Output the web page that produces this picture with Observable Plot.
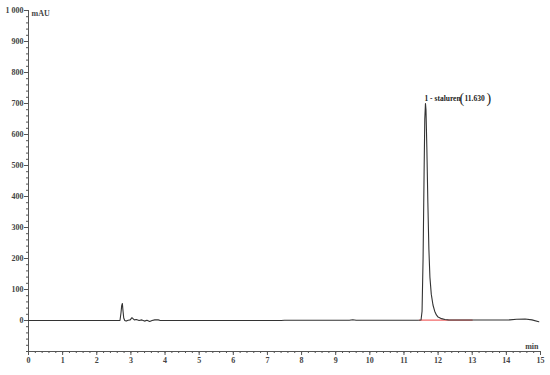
<!DOCTYPE html>
<html>
<head>
<meta charset="utf-8">
<script src="https://cdn.jsdelivr.net/npm/d3@7"></script>
<script src="https://cdn.jsdelivr.net/npm/@observablehq/plot@0.6"></script>
<style>
  html, body { margin: 0; padding: 0; background: #fff; }
  #chart { width: 550px; height: 375px; }
</style>
</head>
<body>
<div id="chart"></div>
<script>
// Chromatogram trace (time in min, absorbance in mAU)
const times = [0, 2.60, 2.68, 2.71, 2.73, 2.75, 2.77, 2.79, 2.82, 2.86, 2.92, 2.98, 3.03, 3.06, 3.10, 3.16, 3.24, 3.32, 3.40, 3.47, 3.55, 3.62, 3.70, 3.80, 3.86, 5.0, 7.40, 7.50, 9.40, 9.50, 9.60, 11.40, 11.50, 11.53, 11.56, 11.59, 11.61, 11.63, 11.645, 11.67, 11.70, 11.73, 11.76, 11.80, 11.85, 11.90, 11.95, 12.00, 12.10, 12.20, 12.30, 12.50, 13.0, 14.10, 14.30, 14.55, 14.75, 14.95];
const values = [0, 0, 0, 25, 48, 55, 30, 8, 0, -2, 1, 2, 9, 6, 2, 3, 0, 2, -2, 1, -3, 0, 2, 2, 0, 0, 0, 1, 1, 2.5, 1, 1, 1.5, 30, 200, 480, 650, 700, 680, 560, 380, 230, 140, 85, 50, 30, 18, 11, 6, 3, 2, 1.5, 1.5, 2, 4, 5, 2, -4];
// Integration baseline (red)
const baseTimes = [11.45, 13.0];
const baseValues = [1.5, 1.5];
// Peak annotation
const peakTime = 11.63;
const peakName = "1 - staluren";
const peakRT = "11.630";

const xMajor = d3.range(0, 16, 1);
const xMinor = d3.range(0, 15.001, 0.2).map(d => +d.toFixed(1));
const yMajor = d3.range(0, 1001, 100);
const yMinor = d3.range(-100, 1001, 20);

const trace = times.map((t, i) => ({t, v: values[i]}));
const base = baseTimes.map((t, i) => ({t, v: baseValues[i]}));

const font = "Liberation Serif, DejaVu Serif, serif";
const axisColor = "#555";

const plot = Plot.plot({
  width: 550,
  height: 375,
  marginLeft: 28,
  marginRight: 10,
  marginTop: 10,
  marginBottom: 24,
  style: {fontFamily: font, fontSize: "8px", fontWeight: "bold", color: "#444", background: "#fff"},
  x: {domain: [0, 15]},
  y: {domain: [-100, 1000]},
  marks: [
    Plot.ruleX([0], {stroke: axisColor, strokeWidth: 1}),
    Plot.ruleY([-100], {stroke: axisColor, strokeWidth: 1}),
    Plot.axisY(yMinor, {tickSize: 2, tickFormat: () => "", stroke: axisColor, label: null}),
    Plot.axisY(yMajor, {tickSize: 4, tickPadding: 1, stroke: axisColor, fill: "#444",
      tickFormat: d => d === 1000 ? "1 000" : String(d), label: null}),
    Plot.axisX(xMinor, {tickSize: 2, tickFormat: () => "", stroke: axisColor, label: null}),
    Plot.axisX(xMajor, {tickSize: 4, tickPadding: 2, stroke: axisColor, fill: "#444", label: null}),
    Plot.text(["mAU"], {frameAnchor: "top-left", dx: 3, dy: 0, textAnchor: "start", fill: "#444", fontSize: 8}),
    Plot.text(["min"], {frameAnchor: "bottom-right", dx: -2, dy: -3, textAnchor: "end", fill: "#444", fontSize: 8}),
    Plot.line(base, {x: "t", y: "v", stroke: "#f26b6b", strokeWidth: 1.2}),
    Plot.line(trace, {x: "t", y: "v", stroke: "#333", strokeWidth: 1.1}),
    Plot.text([peakName], {x: () => peakTime, y: () => 715, textAnchor: "start", dx: -1, fill: "#222", fontSize: 7.5}),
    Plot.text(["("], {x: () => peakTime, y: () => 715, textAnchor: "start", dx: 34, dy: 0, fill: "#222", fontSize: 14, fontWeight: "normal"}),
    Plot.text([peakRT], {x: () => peakTime, y: () => 715, textAnchor: "start", dx: 39, fill: "#222", fontSize: 7.5}),
    Plot.text([")"], {x: () => peakTime, y: () => 715, textAnchor: "start", dx: 61, fill: "#222", fontSize: 14, fontWeight: "normal"})
  ]
});
document.getElementById("chart").appendChild(plot);
</script>
</body>
</html>
